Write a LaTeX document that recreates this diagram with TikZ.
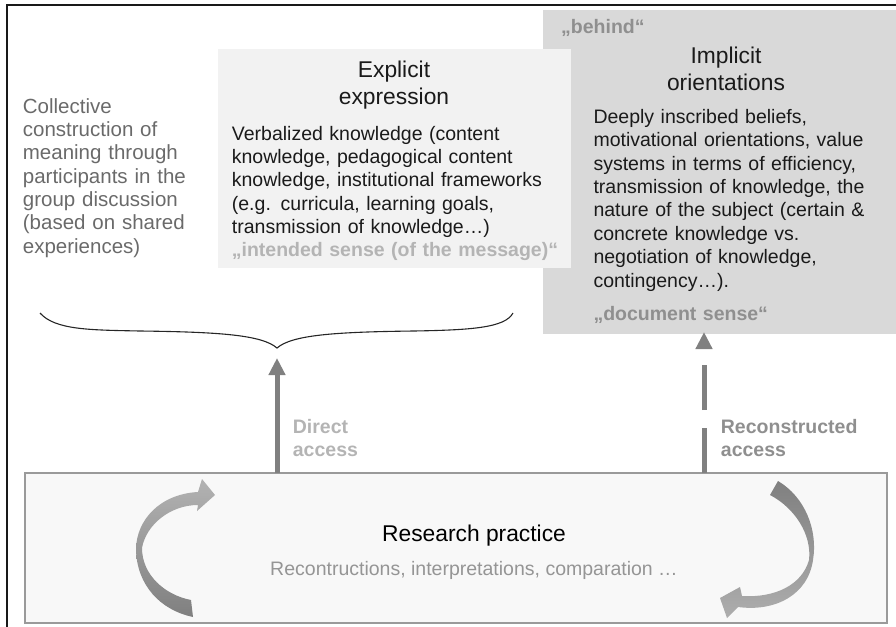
\documentclass[tikz,border=0pt]{standalone}
\usepackage{fontspec}
\setmainfont{Liberation Sans}
\usetikzlibrary{arrows.meta}
\definecolor{darkfill}{HTML}{D9D9D9}
\definecolor{lightfill}{HTML}{F2F2F2}
\definecolor{resfill}{HTML}{F8F8F8}
\definecolor{resline}{HTML}{9A9A9A}
\definecolor{arrowgray}{HTML}{808080}
\definecolor{leftgray}{HTML}{6A6A6A}
\definecolor{palegray}{HTML}{B4B4B4}
\definecolor{midgray}{HTML}{8F8F8F}
\definecolor{subgray}{HTML}{959595}
\definecolor{bodyblack}{HTML}{1A1A1A}
\tikzset{
  panel/.style={inner sep=0pt, outer sep=0pt, anchor=north west},
  bodytext/.style={inner sep=0pt, anchor=base west, align=left, text width=330pt,
    text=bodyblack, font=\fontsize{19.5}{23.4}\selectfont},
  titletext/.style={inner sep=0pt, anchor=base, align=center, text width=260pt,
    text=bodyblack, font=\fontsize{22.8}{27}\selectfont},
  tagtext/.style={inner sep=0pt, anchor=base west, align=left, text width=340pt,
    font=\fontsize{19.5}{23.4}\selectfont\bfseries},
  bigarrow/.style={line width=5pt, draw=arrowgray,
    -{Triangle[width=16pt,length=17pt]}},
}
\begin{document}
\begin{tikzpicture}[x=1pt,y=-1pt]
\useasboundingbox (0,0) rectangle (896,626);
\clip (0,0) rectangle (896,626);
% outer frame
\draw[line width=2pt, black!90] (7,5) rectangle (910,640);
% boxes
\node (impl) [panel, fill=darkfill, minimum width=370pt, minimum height=324pt] at (543,10) {};
\node (expl) [panel, fill=lightfill, minimum width=353pt, minimum height=219pt] at (218,49) {};
\node (res) [panel, draw=resline, line width=1.5pt, fill=resfill, minimum width=862pt, minimum height=150pt] at (25,473) {};

% left text
\node (coll) [bodytext, text=leftgray, font=\fontsize{20.5}{23.33}\selectfont] at (22.7,113.3)
  {Collective\\construction of\\meaning through\\participants in the\\group discussion\\(based on shared\\experiences)};

% explicit box texts
\node (expltitle) [titletext] at (394,77.7) {Explicit\\expression};
\node (explbody) [bodytext] at (231.7,140)
  {Verbalized knowledge (content\\knowledge, pedagogical content\\knowledge, institutional frameworks\\(e.g. curricula, learning goals,\\transmission of knowledge…)};
\node (intended) [tagtext, text=palegray] at (231.7,256.7) {„intended sense (of the message)“};

% implicit box texts
\node (behind) [tagtext, text=midgray] at (561,34) {„behind“};
\node (impltitle) [titletext] at (726,63.3) {Implicit\\orientations};
\node (implbody) [bodytext] at (593.3,123.3)
  {Deeply inscribed beliefs,\\motivational orientations, value\\systems in terms of efficiency,\\transmission of knowledge, the\\nature of the subject (certain \&\\concrete knowledge vs.\\negotiation of knowledge,\\contingency…).};
\node (docsense) [tagtext, text=midgray] at (593.3,320) {„document sense“};

% brace
\coordinate (bracetip) at (277,348);
\draw[line width=1.1pt, black!85] (40,313) .. controls (55,330) and (90,330) .. (140,331)
  .. controls (220,332) and (262,335) .. (bracetip)
  .. controls (292,335) and (334,332) .. (414,331)
  .. controls (470,330) and (505,328) .. (513,313);

% arrows
\coordinate (directtip) at (277,358);
\coordinate (recontip) at (704,332);
\draw[bigarrow] (res.north -| directtip) -- (directtip);
\draw[bigarrow, dash pattern=on 45pt off 18pt] (res.north -| recontip) -- (recontip);

\node (direct) [tagtext, text=palegray] at (292.7,433.3) {Direct\\access};
\node (recon) [tagtext, text=midgray] at (720.7,433.3) {Reconstructed\\access};

% research practice texts
\node (restitle) [inner sep=0pt, anchor=base, text=black, font=\fontsize{22.8}{27}\selectfont] at (474,541.7) {Research practice};
\node (ressub) [inner sep=0pt, anchor=base, text=subgray, font=\fontsize{19.5}{23.4}\selectfont] at (474,575) {Recontructions, interpretations, comparation …};

% curved arrows
\path[top color=black!30, bottom color=black!50]
  (193,617) .. controls (160,610) and (137,585) .. (136,550)
  .. controls (136,520) and (160,494) .. (198,492)
  -- (202,479) -- (215,495) -- (197,511) -- (198,505)
  .. controls (170,505) and (146,525) .. (142,548)
  .. controls (142,575) and (165,595) .. (191,600) -- cycle;
\path[top color=black!50, bottom color=black!32]
  (778,481) .. controls (805,497) and (818,530) .. (813,560)
  .. controls (808,595) and (775,612) .. (738,607)
  -- (727,618) -- (720,598) -- (740,587) -- (742,596)
  .. controls (775,598) and (802,585) .. (809,560)
  .. controls (812,535) and (795,508) .. (770,495) -- cycle;
\end{tikzpicture}
\end{document}
